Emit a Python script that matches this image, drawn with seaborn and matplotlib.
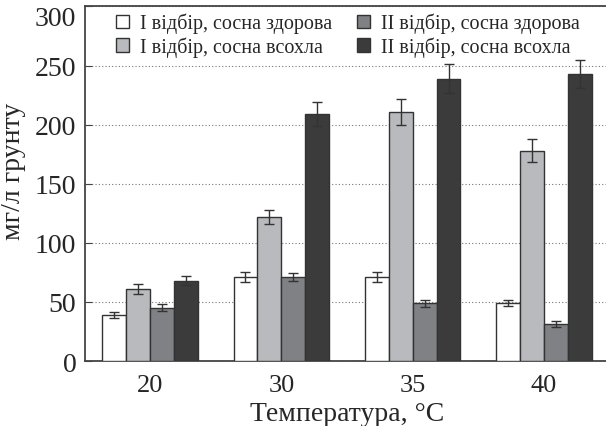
import pandas as pd
import numpy as np
import matplotlib
matplotlib.use("Agg")
import matplotlib.pyplot as plt
import seaborn as sns

# дані
temps = ["20", "30", "35", "40"]
series = ["І відбір, сосна здорова", "І відбір, сосна всохла",
          "ІІ відбір, сосна здорова", "ІІ відбір, сосна всохла"]
vals_1_zdor = [39, 71, 71, 49]
vals_1_vsoh = [61, 122, 211, 178]
vals_2_zdor = [45, 71, 49, 31]
vals_2_vsoh = [68, 209, 239, 243]
err_1_zdor = [2.5, 4, 4, 2.5]
err_1_vsoh = [4, 6, 11, 9.5]
err_2_zdor = [3, 3.5, 3, 2.5]
err_2_vsoh = [4, 10, 12, 12]
colors = ["#ffffff", "#b9babd", "#808185", "#3b3b3b"]

vals = [vals_1_zdor, vals_1_vsoh, vals_2_zdor, vals_2_vsoh]
errs = [err_1_zdor, err_1_vsoh, err_2_zdor, err_2_vsoh]

rows = []
for s, v, e in zip(series, vals, errs):
    for t, vi, ei in zip(temps, v, e):
        rows.append({"temp": t, "series": s, "value": vi, "err": ei})
df = pd.DataFrame(rows)

sns.set_style("white")
plt.rcParams["font.family"] = ["Liberation Serif", "DejaVu Serif"]

fig = plt.figure(figsize=(6.06, 4.27), dpi=100)
ax = fig.add_axes([0.1396, 0.152, 0.866, 0.8305])

sns.barplot(data=df, x="temp", y="value", hue="series", order=temps,
            hue_order=series, palette=colors, width=0.73, gap=0,
            errorbar=None, edgecolor="#333333", linewidth=1.0,
            saturation=1, ax=ax, zorder=3)

# похибки по центрах стовпців
for patch_group, s in zip(ax.containers, series):
    sub = df[df["series"] == s].set_index("temp").loc[temps]
    xs = [p.get_x() + p.get_width() / 2 for p in patch_group]
    ax.errorbar(xs, sub["value"], yerr=sub["err"], fmt="none",
                ecolor="#333333", elinewidth=1.0, capsize=3.5,
                capthick=1.0, zorder=4)

ax.set_xlim(-0.5, 3.5)
ax.set_ylim(0, 300)
ax.set_yticks([0, 50, 100, 150, 200, 250, 300])
ax.yaxis.grid(True, linestyle=(0, (1, 2)), color="#777777", linewidth=0.8)
ax.set_axisbelow(True)
ax.tick_params(axis="y", direction="in", length=5, width=0.8,
               color="#444444", labelsize=20, left=True, pad=6)
ax.tick_params(axis="x", length=0, labelsize=19, pad=9)
# верхню мітку 300 опущено під рамку
ax.get_yticklabels()[-1].set_verticalalignment("top")
for side in ["left", "top", "bottom", "right"]:
    ax.spines[side].set_color("#444444")
    ax.spines[side].set_linewidth(1.3)

ax.set_xlabel("Температура, °C", fontsize=20, labelpad=4)
ax.set_ylabel("мг/л грунту", fontsize=20)
ax.yaxis.set_label_coords(-0.112, 0.537)

ax.legend(ncol=2, loc="upper left", frameon=False, fontsize=14.5,
          bbox_to_anchor=(0.059, 0.982), borderaxespad=0, borderpad=0,
          handlelength=0.65, handleheight=0.65, handletextpad=0.55,
          columnspacing=1.25, labelspacing=0.15)

fig.savefig("out.png", dpi=100)
